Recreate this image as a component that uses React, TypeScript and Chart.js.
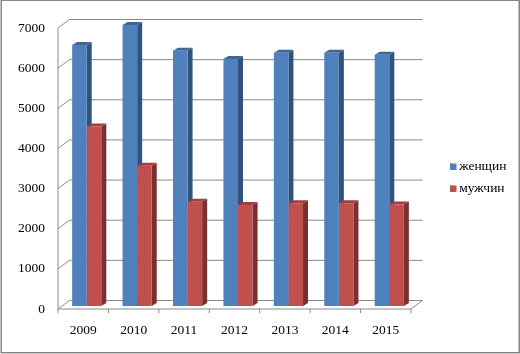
import React, { useEffect, useRef } from "react";
import { Chart, registerables } from "chart.js";

Chart.register(...registerables);

const categories = ["2009", "2010", "2011", "2012", "2013", "2014", "2015"];
const women = [6500, 7000, 6360, 6150, 6310, 6310, 6260];
const men = [4470, 3495, 2600, 2515, 2560, 2560, 2530];
const yTicks = [0, 1000, 2000, 3000, 4000, 5000, 6000, 7000];

const FONT = "'Liberation Serif'";
const GRID = "#8a8a8a";
const AXIS_SHIFT = 3.5;
const SWATCH = 6.5;

const threeD = {
  id: "threeD",
  afterLayout(chart: any) {
    const l = chart.legend;
    if (l) {
      l.left = 441.5;
      l.right = 520;
      l.top = 151.5;
      l.bottom = 354;
      l.adjustHitBoxes();
    }
  },
  afterDraw(chart: any) {
    const l = chart.legend;
    const { ctx } = chart;
    if (!l) return;
    const pad = l.options.labels.padding;
    l.legendHitBoxes.forEach((h: any, i: number) => {
      ctx.fillStyle = l.legendItems[i].fillStyle;
      ctx.fillRect(l.left + pad, h.top + (h.height - SWATCH) / 2, SWATCH, SWATCH);
    });
  },
  beforeDatasetsDraw(chart: any) {
    const { ctx, scales } = chart;
    const x = scales.x;
    const y = scales.y;
    const left = x.left - AXIS_SHIFT;
    const right = x.right - AXIS_SHIFT;
    const dx = 11.5;
    const front = 3;
    const back = -5.5;
    ctx.save();
    // outer frame
    ctx.strokeStyle = "#868686";
    ctx.lineWidth = 1.5;
    ctx.strokeRect(1.25, 0.25, 518, 352.5);
    // walls
    ctx.lineWidth = 1;
    ctx.strokeStyle = GRID;
    yTicks.forEach((v) => {
      const p = y.getPixelForValue(v);
      ctx.beginPath();
      ctx.moveTo(left, p + front);
      ctx.lineTo(left + dx, p + back);
      ctx.lineTo(right + dx, p + back);
      ctx.stroke();
    });
    const base = y.getPixelForValue(0);
    const top = y.getPixelForValue(7000);
    ctx.beginPath();
    ctx.moveTo(left, top + front);
    ctx.lineTo(left, base + front);
    ctx.lineTo(right, base + front);
    ctx.lineTo(right + dx, base + back);
    ctx.stroke();
    // category tick marks
    for (let i = 0; i <= categories.length; i++) {
      const t = left + ((right - left) * i) / categories.length;
      ctx.beginPath();
      ctx.moveTo(t, base + front);
      ctx.lineTo(t, base + front + 4);
      ctx.stroke();
    }
    // side and top faces of the bars
    const faces = [
      { side: "#31527d", top: "#3e6797" },
      { side: "#7b2f2e", top: "#a03f3c" },
    ];
    const d = 5;
    const h = 3;
    faces.forEach((f, di) => {
      chart.getDatasetMeta(di).data.forEach((b: any) => {
        const r = b.x + b.width / 2;
        const l = b.x - b.width / 2;
        ctx.fillStyle = f.side;
        ctx.beginPath();
        ctx.moveTo(r, b.y);
        ctx.lineTo(r + d, b.y - h);
        ctx.lineTo(r + d, b.base - h);
        ctx.lineTo(r, b.base);
        ctx.closePath();
        ctx.fill();
        ctx.fillStyle = f.top;
        ctx.beginPath();
        ctx.moveTo(l, b.y);
        ctx.lineTo(l + d, b.y - h);
        ctx.lineTo(r + d, b.y - h);
        ctx.lineTo(r, b.y);
        ctx.closePath();
        ctx.fill();
      });
    });
    ctx.restore();
  },
};

export default function App() {
  const ref = useRef<HTMLCanvasElement>(null);
  useEffect(() => {
    const chart = new Chart(ref.current as HTMLCanvasElement, {
      type: "bar",
      data: {
        labels: categories,
        datasets: [
          { label: "женщин", data: women, backgroundColor: "#4f81bd" },
          { label: "мужчин", data: men, backgroundColor: "#c0504d" },
        ],
      },
      options: {
        responsive: false,
        animation: false,
        events: [],
        layout: { padding: { left: 0, top: 25, right: 105.5, bottom: 0 } },
        datasets: { bar: { barPercentage: 1, categoryPercentage: 0.578 } },
        plugins: {
          tooltip: { enabled: false },
          legend: {
            position: "chartArea",
            align: "start",
            labels: {
              font: { family: FONT, size: 13.5 },
              color: "#000",
              boxWidth: 2.5,
              boxHeight: 6.5,
              padding: 8.5,
            },
          },
        },
        scales: {
          x: {
            grid: { display: false, drawTicks: false },
            border: { display: false },
            afterFit: (s: any) => {
              s.height = 48;
            },
            ticks: {
              font: { family: FONT, size: 13.5 },
              color: "#000",
              labelOffset: -AXIS_SHIFT,
              padding: 16,
              autoSkip: false,
              maxRotation: 0,
            },
          },
          y: {
            min: 0,
            max: 7000,
            grid: { display: false, drawTicks: false },
            border: { display: false },
            afterFit: (s: any) => {
              s.width = 61.5;
            },
            ticks: {
              stepSize: 1000,
              font: { family: FONT, size: 13.5 },
              color: "#000",
              labelOffset: 3,
              padding: 16.5,
              callback: (v: any) => String(v),
            },
          },
        },
      },
      plugins: [threeD],
    } as any);
    return () => chart.destroy();
  }, []);
  return (
    <div style={{ position: "absolute", left: 0, top: 0, width: 520, height: 354, background: "#fff" }}>
      <canvas ref={ref} width={520} height={354} style={{ display: "block" }} />
    </div>
  );
}
